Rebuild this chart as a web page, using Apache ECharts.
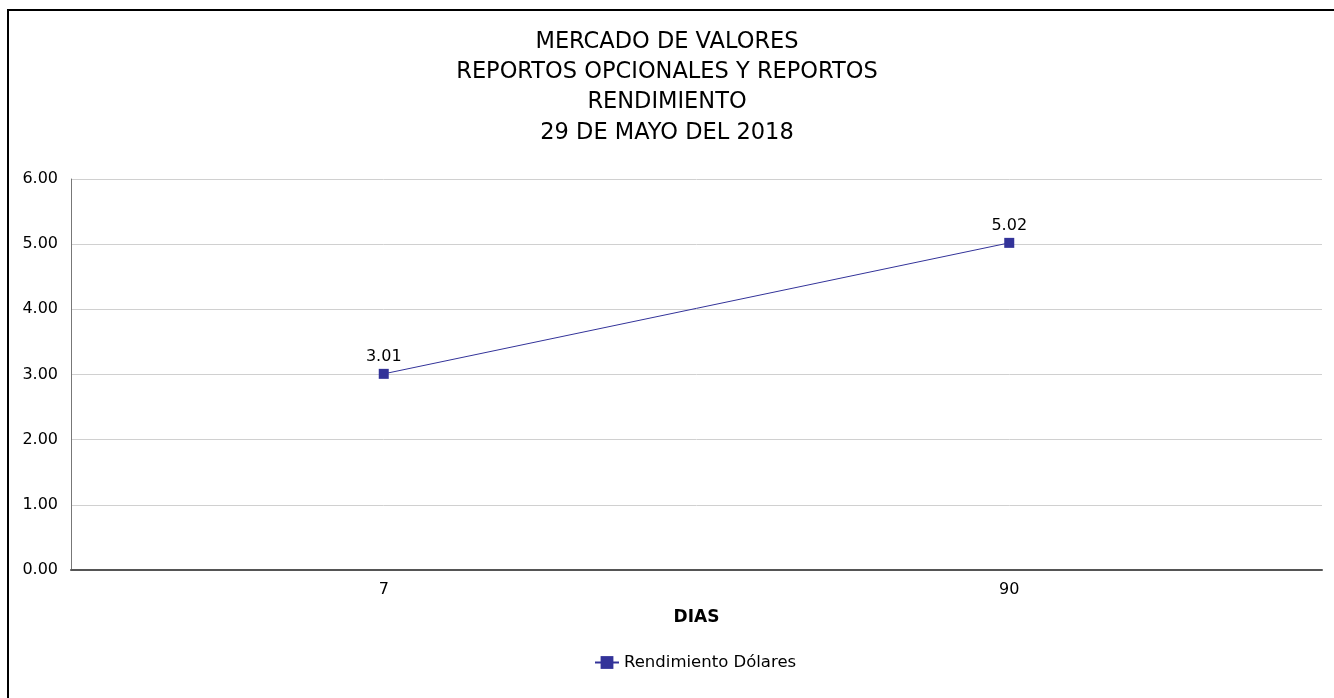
<!DOCTYPE html>
<html>
<head>
<meta charset="utf-8">
<script src="https://cdn.jsdelivr.net/npm/echarts@6/dist/echarts.min.js"></script>
<style>
html,body{margin:0;padding:0;background:#fff;}
#frame{position:absolute;left:7px;top:9px;width:1340px;height:700px;border-left:2px solid #000;border-top:2px solid #000;}
#chart{position:absolute;left:0;top:0;width:1334px;height:698px;}
</style>
</head>
<body>
<div id="frame"></div>
<div id="chart"></div>
<script>
var titleLines = ['MERCADO DE VALORES','REPORTOS OPCIONALES Y REPORTOS','RENDIMIENTO','29 DE MAYO DEL 2018'];
var categories = ['7','90'];
var seriesName = 'Rendimiento Dólares';
var values = [3.01, 5.02];
var axisName = 'DIAS';

var font = 'Tahoma, "DejaVu Sans", Verdana, sans-serif';
var chart = echarts.init(document.getElementById('chart'), null, {renderer:'canvas'});
chart.setOption({
  backgroundColor: 'transparent',
  animation: false,
  title: {
    text: titleLines.join('\n'),
    left: 'center',
    top: 22,
    textStyle: {fontFamily: font, fontSize: 22.5, fontWeight: 'normal', color: '#000', lineHeight: 30.2}
  },
  grid: {left: 71, right: 12, top: 179, bottom: 128},
  legend: {
    data: [seriesName],
    bottom: 22,
    left: 589,
    itemWidth: 24,
    itemHeight: 16,
    itemGap: 6,
    textStyle: {fontFamily: font, fontSize: 16.5, color: '#000'}
  },
  xAxis: {
    type: 'category',
    data: categories,
    boundaryGap: true,
    name: axisName,
    nameLocation: 'middle',
    nameGap: 39,
    nameTextStyle: {fontFamily: font, fontSize: 17, fontWeight: 'bold', color: '#000'},
    axisLine: {lineStyle: {color: '#555', width: 2}},
    axisTick: {show: false},
    axisLabel: {fontFamily: font, fontSize: 16, color: '#000', margin: 12}
  },
  yAxis: {
    type: 'value',
    min: 0, max: 6, interval: 1,
    axisLine: {show: true, lineStyle: {color: '#777', width: 1}},
    axisTick: {show: false},
    splitLine: {lineStyle: {color: '#d0d0d0', width: 1}},
    axisLabel: {fontFamily: font, fontSize: 16, color: '#000', margin: 13,
      formatter: function(v){return v.toFixed(2);}}
  },
  series: [{
    name: seriesName,
    type: 'line',
    data: values,
    symbol: 'rect',
    symbolSize: 10,
    itemStyle: {color: '#333399'},
    lineStyle: {color: '#333399', width: 1},
    label: {show: true, position: 'top', distance: 4, fontFamily: font, fontSize: 16, color: '#000',
      formatter: function(p){return p.value.toFixed(2);}}
  }]
});
</script>
</body>
</html>
